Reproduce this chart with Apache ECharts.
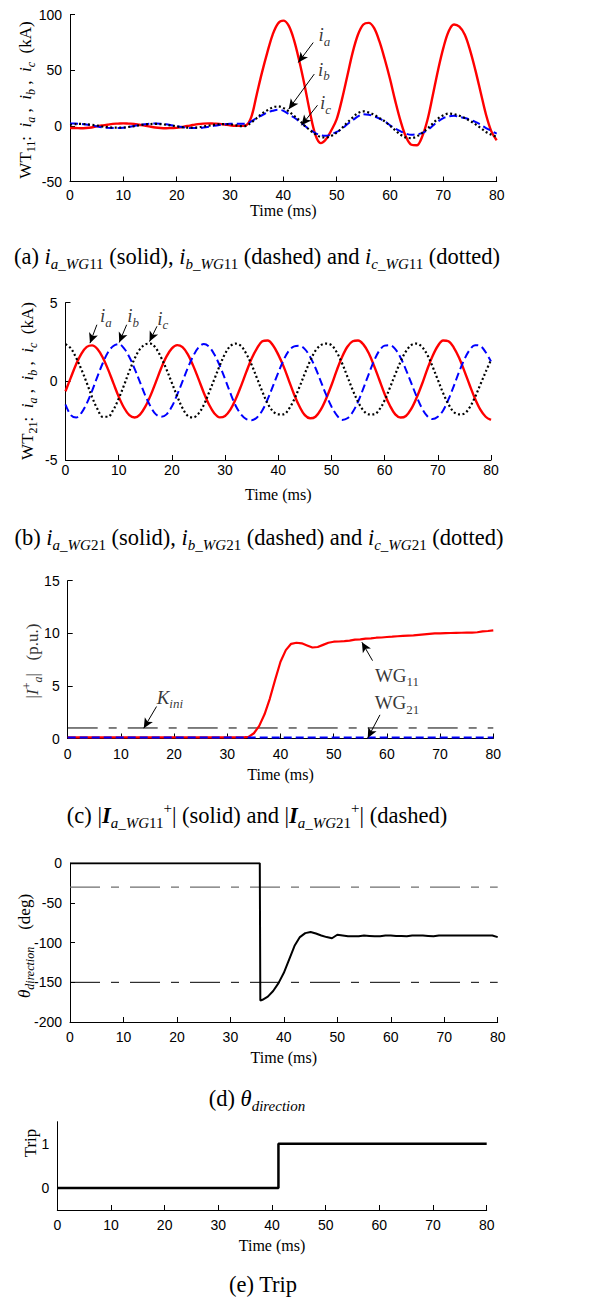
<!DOCTYPE html>
<html>
<head>
<meta charset="utf-8">
<script src="https://cdn.jsdelivr.net/npm/echarts@6/dist/echarts.min.js"></script>
<style>
  html, body { margin: 0; padding: 0; background: #ffffff; }
  #chart { width: 609px; height: 1299px; }
</style>
</head>
<body>
<div id="chart"></div>
<script>
// ---------- sampled time base (ms) ----------
const TIME_MS = [0,1,2,3,4,5,6,7,8,9,10,11,12,13,14,15,16,17,18,19,20,21,22,23,24,25,26,27,28,29,30,
  31,32,33,34,35,36,37,38,39,40,41,42,43,44,45,46,47,48,49,50,51,52,53,54,55,56,57,58,59,60,
  61,62,63,64,65,66,67,68,69,70,71,72,73,74,75,76,77,78,79,80];
const X_TICKS = [0, 10, 20, 30, 40, 50, 60, 70, 80];

// ---------- (a) WT11 phase currents, kA ----------
const IA_WG11 = [-2,-2,-2.2,-2,-1.5,-0.5,0.3,1,1.8,2, 2.2,2,1.8,1,0.2,-0.7,-1.5,-2,-2.2,-2,
  -1.8,-1,-0.2,0.7,1.5,2,2.2,2,1.8,1.2, 0.5,0,0,0.5,8,28,48,66,82,92,
  94.5,90,77,58,36,12,-8,-15.5,-12,-4, 6,24,45,66,82,91,92.5,88,76,60,
  42,22,4,-10,-17,-17.5,-10,5,27,50, 70,85,91,89,82,68,50,30,10,-5, -13];
const IB_WG11 = [2,2,1.8,1.2,0.4,-0.5,-1.3,-1.8,-2,-2, -1.7,-1,-0.2,0.7,1.4,1.9,2,1.9,1.4,0.6,
  -0.3,-1.1,-1.7,-2,-2,-1.6,-0.9,0,0.8,1.5, 1.9,2,1.8,1.8,4,7,9.5,12,13.5,14.5,
  13.5,10.5,7.5,4,0,-3.5,-6.5,-8.5,-9,-7.5, -5.5,-2.5,1.5,5,8.5,10.5,10,8.5,6.5,4,
  0.5,-2.5,-5,-7,-8,-7.5,-6.5,-4,0,4, 7,8.5,9,8,7,5.5,3.5,1,-2,-4.5, -7];
const IC_WG11 = [1,1.5,1.7,1.5,1,0.3,-0.5,-1.2,-1.6,-1.7, -1.5,-1,-0.3,0.5,1.2,1.6,1.7,1.5,1,0.3,
  -0.5,-1.2,-1.6,-1.7,-1.3,-0.6,0.2,0.9,1.4,1.6, 1.3,0.6,-0.3,0,3,7,11,14,16.5,17.5,
  16,13,9,5,0,-4,-7.5,-10,-10.5,-9, -6,-2,3,7.5,11.5,13,12,10,7,4,
  0,-4,-8,-10.5,-11,-9.5,-6.5,-2.5,2,6.5, 9.5,11,10.5,9,7,4.5,1.5,-2,-5.5,-8, -10];

// ---------- (b) WT21 phase currents, kA ----------
const IA_WG21 = [-0.63,0.24,1.09,1.77,2.19,2.29,2.06,1.52,0.76,-0.11, -0.97,-1.68,-2.15,-2.3,-2.11,-1.61,-0.89,-0.03,0.85,1.59,
  2.1,2.3,2.17,1.71,1.0,0.16,-0.72,-1.49,-2.04,-2.29, -2.2,-1.8,-1.13,-0.3,0.6,1.45,2.1,2.55,2.6,2.3,
  1.7,0.95,0.05,-0.85,-1.6,-2.15,-2.35,-2.25,-1.8,-1.1, -0.25,0.7,1.55,2.2,2.55,2.6,2.35,1.8,1.0,0.1,
  -0.8,-1.55,-2.1,-2.3,-2.2,-1.75,-1.05,-0.2,0.75,1.6, 2.25,2.6,2.55,2.15,1.5,0.65,-0.25,-1.1,-1.8,-2.25, -2.45];
const IB_WG21 = [-1.47,-2.15,-2.3,-2.0,-1.4,-0.6,0.3,1.15,1.85,2.25, 2.37,2.1,1.55,0.8,-0.05,-0.9,-1.6,-2.1,-2.25,-2.1,
  -1.6,-0.85,0.0,0.85,1.6,2.15,2.37,2.2,1.7,1.0, 0.15,-0.75,-1.55,-2.1,-2.4,-2.47,-2.3,-1.85,-1.15,-0.3,
  0.55,1.35,1.95,2.22,2.26,2.05,1.55,0.85,0.0,-0.85, -1.6,-2.15,-2.45,-2.35,-1.95,-1.3,-0.45,0.45,1.3,1.95,
  2.27,2.3,2.05,1.5,0.75,-0.1,-0.95,-1.7,-2.2,-2.4, -2.25,-1.85,-1.15,-0.3,0.6,1.4,2.0,2.3,2.25,1.85, 1.27];
const IC_WG21 = [2.37,2.1,1.5,0.75,-0.1,-1.0,-1.75,-2.25,-2.25,-1.8, -1.1,-0.25,0.65,1.45,2.05,2.35,2.4,2.1,1.5,0.75,
  -0.1,-0.95,-1.7,-2.2,-2.3,-2.05,-1.5,-0.7,0.15,1.0, 1.75,2.25,2.4,2.25,1.75,1.05,0.2,-0.65,-1.4,-1.9,
  -2.1,-2.1,-1.75,-1.15,-0.35,0.5,1.3,1.95,2.3,2.4, 2.3,1.85,1.15,0.3,-0.55,-1.3,-1.85,-2.1,-2.1,-1.8,
  -1.2,-0.4,0.45,1.25,1.9,2.3,2.4,2.2,1.7,0.95, 0.1,-0.75,-1.45,-1.95,-2.1,-2.05,-1.65,-1.0,-0.2,0.6, 1.37];

// ---------- (c) positive-sequence magnitude, p.u. ----------
const IA_POS_WG11 = [0.1,0.1,0.1,0.1,0.1,0.1,0.1,0.1,0.1,0.1, 0.1,0.1,0.1,0.1,0.1,0.1,0.1,0.1,0.1,0.1,
  0.1,0.1,0.1,0.1,0.1,0.1,0.1,0.1,0.1,0.1, 0.1,0.1,0.1,0.1,0.15,0.5,1.2,2.3,3.8,5.6,
  7.3,8.4,9.0,9.1,9.05,8.85,8.65,8.7,8.9,9.1, 9.2,9.22,9.25,9.3,9.4,9.43,9.5,9.52,9.58,9.6,
  9.65,9.68,9.72,9.75,9.78,9.8,9.85,9.9,9.95,10.0, 10.0,10.02,10.03,10.04,10.05,10.06,10.07,10.1,10.18,10.22, 10.28];
const IA_POS_WG21 = [0.1,0.1,0.1,0.1,0.1,0.1,0.1,0.1,0.1,0.1, 0.1,0.1,0.1,0.1,0.1,0.1,0.1,0.1,0.1,0.1,
  0.1,0.1,0.1,0.1,0.1,0.1,0.1,0.1,0.1,0.1, 0.1,0.1,0.1,0.1,0.1,0.1,0.1,0.1,0.1,0.1,
  0.1,0.1,0.1,0.1,0.1,0.1,0.1,0.1,0.1,0.1, 0.1,0.1,0.1,0.1,0.1,0.1,0.1,0.1,0.1,0.1,
  0.1,0.1,0.1,0.1,0.1,0.1,0.1,0.1,0.1,0.1, 0.1,0.1,0.1,0.1,0.1,0.1,0.1,0.1,0.1,0.1, 0.1];
const K_INI = 1;

// ---------- (d) direction angle, deg ----------
const THETA_TIME = [0,35.5,35.6,36,37,38,39,40,41,42,43,44,45,46,47,48,49,50,51,52,53,54,55,56,57,58,59,60,
  61,62,63,64,65,66,67,68,69,70,71,72,73,74,75,76,77,78,79,80];
const THETA_DEG = [0,0,-173,-172,-168,-161,-151,-138,-121,-104,-93,-88,-86.5,-88.5,-91,-93,-94.5,-90,-91,-92,-92,-92,-91,-91.5,-92,-92,-91,-91,
  -91.5,-91.5,-92,-91,-91,-91,-91.5,-92,-91,-91,-91,-91,-91,-91,-91,-91,-91,-91,-91,-93];
const THETA_LIMITS = [-30, -150];

// ---------- (e) trip signal ----------
const TRIP_TIME = [0, 41.2, 41.2, 80];
const TRIP_VAL = [0, 0, 1, 1];

// ---------- styling ----------
const SERIF = '"Liberation Serif", "Times New Roman", serif';
const SANS = '"Liberation Sans", Arial, sans-serif';
const RED = '#ff0000', BLUE = '#0000ff', BLACK = '#000000';

function richSet(fs, color) {
  const s = Math.round(fs * 0.68);
  const c = color || '#000';
  const base = { fontFamily: SERIF, color: c };
  return {
    n:   Object.assign({}, base, { fontSize: fs, lineHeight: Math.round(fs * 1.35), verticalAlign: 'middle' }),
    i:   Object.assign({}, base, { fontSize: fs, fontStyle: 'italic', lineHeight: Math.round(fs * 1.35), verticalAlign: 'middle' }),
    bi:  Object.assign({}, base, { fontSize: fs, fontStyle: 'italic', fontWeight: 'bold', lineHeight: Math.round(fs * 1.35), verticalAlign: 'middle' }),
    sn:  Object.assign({}, base, { fontSize: s, lineHeight: s, verticalAlign: 'bottom' }),
    si:  Object.assign({}, base, { fontSize: s, fontStyle: 'italic', lineHeight: s, verticalAlign: 'bottom' }),
    sup: Object.assign({}, base, { fontSize: s, lineHeight: s, verticalAlign: 'top' })
  };
}

function textEl(x, y, text, fs, rot, color) {
  return {
    type: 'text', x: x, y: y, rotation: rot || 0, silent: true,
    style: {
      text: text, rich: richSet(fs, color),
      textAlign: 'center', textVerticalAlign: 'middle',
      align: 'center', verticalAlign: 'middle',
      fill: color || '#000', font: fs + 'px ' + SERIF
    }
  };
}

const GRIDS = [
  { left: 70,   top: 14.5,   width: 426.7, height: 167 },
  { left: 65.5, top: 302.7,  width: 425.5, height: 157.3 },
  { left: 67.7, top: 580.7,  width: 425.6, height: 157.8 },
  { left: 70,   top: 863.3,  width: 427.7, height: 158.7 },
  { left: 57.3, top: 1121.7, width: 429.4, height: 88.3 }
];
const LABEL_MARGIN = [6, 3, 8, 8, 8];
const NAME_GAP = [21, 26, 28, 27, 27];

function xAxisFor(gi) {
  return {
    type: 'value', gridIndex: gi, min: X_TICKS[0], max: X_TICKS[X_TICKS.length - 1], interval: 10,
    name: 'Time (ms)', nameLocation: 'middle', nameGap: NAME_GAP[gi],
    nameTextStyle: { fontFamily: SERIF, fontSize: 16, color: '#000' },
    axisLine: { show: true, onZero: false, lineStyle: { color: '#000', width: 1 } },
    axisTick: { show: true, inside: true, length: 5, lineStyle: { color: '#000', width: 1 } },
    axisLabel: { fontFamily: SANS, fontSize: 14, color: '#000', margin: LABEL_MARGIN[gi] },
    splitLine: { show: false }
  };
}
function yAxisFor(gi, min, max, interval, formatter, ticks) {
  return {
    type: 'value', gridIndex: gi, min: min, max: max, interval: interval,
    axisLine: { show: true, onZero: false, lineStyle: { color: '#000', width: 1 } },
    axisTick: { show: ticks !== false, inside: true, length: 5, lineStyle: { color: '#000', width: 1 } },
    axisLabel: { fontFamily: SANS, fontSize: 14, color: '#000', margin: 8, formatter: formatter },
    splitLine: { show: false }
  };
}

function pairs(xs, ys) { return xs.map(function (t, i) { return [t, ys[i]]; }); }

function lineSeries(gi, xs, ys, color, width, type, smooth, z) {
  return {
    type: 'line', xAxisIndex: gi, yAxisIndex: gi, data: pairs(xs, ys),
    symbol: 'none', showSymbol: false, smooth: smooth || false, silent: true, z: z || 2,
    lineStyle: { color: color, width: width, type: type || 'solid', cap: 'butt' },
    emphasis: { disabled: true }
  };
}

// arrowed call-outs anchored in data space
function notes(gi, items) {
  return {
    type: 'scatter', xAxisIndex: gi, yAxisIndex: gi, symbolSize: 1, silent: true, z: 10,
    itemStyle: { color: 'rgba(0,0,0,0)' },
    data: items.map(function (it) { return { value: it.at, txt: it.text }; }),
    label: {
      show: true, position: 'inside',
      formatter: function (p) { return p.data.txt; },
      rich: richSet(19)
    },
    markLine: {
      silent: true, symbol: ['none', 'arrow'], symbolSize: [7, 10], animation: false,
      label: { show: false }, emphasis: { disabled: true },
      lineStyle: { color: '#000', width: 1, type: 'solid' },
      data: items.map(function (it) { return [{ coord: it.from }, { coord: it.to }]; })
    }
  };
}

const NOTES_A = [
  { text: '{i|i}{si|a}', at: [47.7, 82], from: [45.6, 74.8], to: [42.8, 56.9] },
  { text: '{i|i}{si|b}', at: [47.6, 50.8], from: [45.8, 46.5], to: [41.0, 15] },
  { text: '{i|i}{si|c}', at: [47.9, 20.8], from: [46.4, 18.5], to: [43.4, 0.5] }
];
const NOTES_B = [
  { text: '{i|i}{si|a}', at: [7.6, 4.16], from: [5.9, 3.6], to: [4.6, 2.43] },
  { text: '{i|i}{si|b}', at: [12.7, 4.16], from: [11.5, 3.6], to: [10.1, 2.47] },
  { text: '{i|i}{si|c}', at: [18.3, 4.0], from: [17.2, 3.5], to: [15.8, 2.53] }
];
const NOTES_C = [
  { text: '{i|K}{si|ini}', at: [19.2, 3.9], from: [16.7, 3.04], to: [14.3, 0.98] },
  { text: '{n|WG}{sn|11}', at: [61.9, 6.0], from: [57.3, 7.4], to: [55.3, 9.15] },
  { text: '{n|WG}{sn|21}', at: [61.9, 3.4], from: [58.7, 2.25], to: [56.4, 0.05] }
];

const DASH_LONG_SHORT = [30, 11, 8, 11];

const option = {
  animation: false,
  backgroundColor: '#ffffff',
  grid: GRIDS.map(function (g) { return Object.assign({ outerBoundsMode: 'none', containLabel: false }, g); }),
  xAxis: [0, 1, 2, 3, 4].map(xAxisFor),
  yAxis: [
    yAxisFor(0, -50, 100, 50),
    yAxisFor(1, -5, 5, 5),
    yAxisFor(2, 0, 15, 5),
    yAxisFor(3, -200, 0, 50),
    yAxisFor(4, -0.5, 1.5, 0.5, function (v) { return (v === 0 || v === 1) ? String(v) : ''; }, false)
  ],
  series: [
    // (a)
    lineSeries(0, TIME_MS, IA_WG11, RED, 2.4, 'solid', 0.35, 3),
    lineSeries(0, TIME_MS, IB_WG11, BLUE, 2, [8, 4], 0.35, 4),
    lineSeries(0, TIME_MS, IC_WG11, BLACK, 2.2, [2, 2.5], 0.35, 5),
    notes(0, NOTES_A),
    // (b)
    lineSeries(1, TIME_MS, IA_WG21, RED, 2.4, 'solid', 0.35, 3),
    lineSeries(1, TIME_MS, IB_WG21, BLUE, 2, [8, 4], 0.35, 4),
    lineSeries(1, TIME_MS, IC_WG21, BLACK, 2.2, [2, 2.5], 0.35, 5),
    notes(1, NOTES_B),
    // (c)
    lineSeries(2, [X_TICKS[0], X_TICKS[8]], [K_INI, K_INI], BLACK, 1, DASH_LONG_SHORT, false, 2),
    lineSeries(2, TIME_MS, IA_POS_WG11, RED, 2.2, 'solid', false, 3),
    lineSeries(2, TIME_MS, IA_POS_WG21, BLUE, 2, [8, 4], false, 4),
    notes(2, NOTES_C),
    // (d)
    lineSeries(3, [X_TICKS[0], X_TICKS[8]], [THETA_LIMITS[0], THETA_LIMITS[0]], '#6e6e6e', 1.2, DASH_LONG_SHORT, false, 2),
    lineSeries(3, [X_TICKS[0], X_TICKS[8]], [THETA_LIMITS[1], THETA_LIMITS[1]], BLACK, 1, DASH_LONG_SHORT, false, 2),
    lineSeries(3, THETA_TIME, THETA_DEG, BLACK, 2, 'solid', false, 3),
    // (e)
    lineSeries(4, TRIP_TIME, TRIP_VAL, BLACK, 2.5, 'solid', false, 3)
  ],
  graphic: {
    elements: [
      // axis titles
      textEl(25, 100, '{n|WT}{sn|11}{n|:  }{i|i}{si|a}{n| ,  }{i|i}{si|b}{n| ,  }{i|i}{si|c}{n|  (kA)}', 17, Math.PI / 2),
      textEl(27, 381, '{n|WT}{sn|21}{n|:  }{i|i}{si|a}{n| ,  }{i|i}{si|b}{n| ,  }{i|i}{si|c}{n|  (kA)}', 17, Math.PI / 2),
      textEl(32, 661, '{n||}{i|I}{sup|+}{si|a}{n||   (p.u.)}', 17, Math.PI / 2, '#333'),
      textEl(24, 946, '{i|θ}{si|direction}{n|    (deg)}', 17, Math.PI / 2),
      textEl(30, 1143, '{n|Trip}', 17, Math.PI / 2),
      // panel captions
      textEl(257, 256, '{n|(a) }{i|i}{si|a_WG}{sn|11}{n| (solid), }{i|i}{si|b_WG}{sn|11}{n| (dashed) and }{i|i}{si|c_WG}{sn|11}{n| (dotted)}', 22.5),
      textEl(259, 537, '{n|(b) }{i|i}{si|a_WG}{sn|21}{n| (solid), }{i|i}{si|b_WG}{sn|21}{n| (dashed) and }{i|i}{si|c_WG}{sn|21}{n| (dotted)}', 22.5),
      textEl(257, 815, '{n|(c) |}{bi|I}{si|a_WG}{sn|11}{sup|+}{n|| (solid) and |}{bi|I}{si|a_WG}{sn|21}{sup|+}{n|| (dashed)}', 22.5),
      textEl(257, 1098, '{n|(d) }{i|θ}{si|direction}', 22.5),
      textEl(263, 1284, '{n|(e) Trip}', 22.5)
    ]
  }
};

const chart = echarts.init(document.getElementById('chart'), null, { renderer: 'svg' });
chart.setOption(option);
</script>
</body>
</html>
